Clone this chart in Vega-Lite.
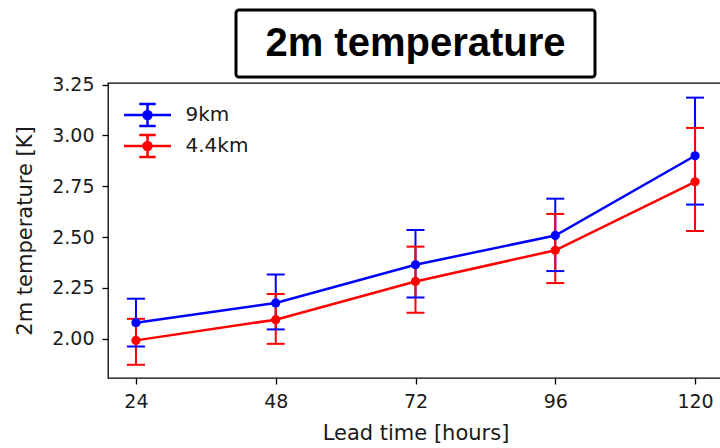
{
  "$schema": "https://vega.github.io/schema/vega-lite/v6.json",
  "padding": {"left": 14, "top": 8, "right": 0, "bottom": 0},
  "background": "white",
  "config": {
    "font": "DejaVu Sans",
    "view": {"stroke": "black", "strokeWidth": 1.3},
    "axis": {
      "labelFont": "DejaVu Sans",
      "titleFont": "DejaVu Sans",
      "labelFontSize": 19,
      "titleFontSize": 21,
      "titleFontWeight": "normal",
      "labelColor": "#1a1a1a",
      "titleColor": "#1a1a1a",
      "tickColor": "black",
      "tickSize": 6,
      "tickWidth": 1.3,
      "domain": false,
      "grid": false
    }
  },
  "center": true,
  "bounds": "flush",
  "spacing": 6,
  "resolve": {"scale": {"color": "shared"}},
  "datasets": {
    "heading": [{"label": "2m temperature"}],
    "rmse": [
      {"lead": 24, "model": "9km", "value": 2.079, "lo": 1.962, "hi": 2.197},
      {"lead": 48, "model": "9km", "value": 2.176, "lo": 2.046, "hi": 2.316},
      {"lead": 72, "model": "9km", "value": 2.364, "lo": 2.203, "hi": 2.535},
      {"lead": 96, "model": "9km", "value": 2.508, "lo": 2.333, "hi": 2.689},
      {"lead": 120, "model": "9km", "value": 2.9, "lo": 2.66, "hi": 3.186},
      {"lead": 24, "model": "4.4km", "value": 1.992, "lo": 1.872, "hi": 2.098},
      {"lead": 48, "model": "4.4km", "value": 2.094, "lo": 1.975, "hi": 2.22},
      {"lead": 72, "model": "4.4km", "value": 2.282, "lo": 2.128, "hi": 2.453},
      {"lead": 96, "model": "4.4km", "value": 2.435, "lo": 2.274, "hi": 2.614},
      {"lead": 120, "model": "4.4km", "value": 2.772, "lo": 2.53, "hi": 3.037}
    ]
  },
  "vconcat": [
    {
      "width": 359,
      "height": 67,
      "view": {"stroke": "black", "strokeWidth": 3, "cornerRadius": 3},
      "data": {"name": "heading"},
      "mark": {"type": "text", "font": "Liberation Sans", "fontWeight": "bold", "fontSize": 40, "color": "black", "baseline": "middle", "align": "center"},
      "encoding": {"text": {"field": "label", "type": "nominal"}}
    },
    {
      "width": 615,
      "height": 295,
      "data": {"name": "rmse"},
      "encoding": {
        "x": {
          "field": "lead",
          "type": "quantitative",
          "scale": {"domain": [19.2, 124.8], "nice": false, "zero": false},
          "axis": {"values": [24, 48, 72, 96, 120], "title": "Lead time [hours]", "labelPadding": 8, "titlePadding": 11}
        },
        "color": {
          "field": "model",
          "type": "nominal",
          "scale": {"domain": ["9km", "4.4km"], "range": ["#0000ff", "#ff0000"]},
          "legend": {
            "title": null,
            "orient": "none",
            "legendX": 26.5,
            "legendY": 92,
            "padding": 0,
            "symbolType": "M-2,0H2M0,-0.94V0.94M-0.7,-0.94H0.7M-0.7,0.94H0.7M0.34,0A0.34,0.34 0 1,1 -0.34,0A0.34,0.34 0 1,1 0.34,0Z",
            "symbolSize": 552,
            "symbolStrokeWidth": 2.5,
            "labelFont": "DejaVu Sans",
            "labelFontSize": 20,
            "labelColor": "#1a1a1a",
            "labelOffset": 25,
            "rowPadding": -3,
            "encode": {
              "symbols": {
                "update": {
                  "fill": {"scale": "color", "field": "value"},
                  "stroke": {"scale": "color", "field": "value"},
                  "opacity": {"value": 1}
                }
              }
            }
          }
        }
      },
      "layer": [
        {
          "mark": {"type": "rule", "strokeWidth": 2, "opacity": 1},
          "encoding": {
            "y": {
              "field": "lo",
              "type": "quantitative",
              "title": "2m temperature [K]",
              "scale": {"domain": [1.807, 3.258], "nice": false, "zero": false},
              "axis": {"values": [2, 2.25, 2.5, 2.75, 3, 3.25], "format": ".2f", "labelPadding": 8, "titlePadding": 16}
            },
            "y2": {"field": "hi"}
          }
        },
        {
          "mark": {"type": "tick", "orient": "horizontal", "size": 18, "thickness": 2, "opacity": 1},
          "encoding": {
            "y": {"field": "lo", "type": "quantitative", "title": "2m temperature [K]"}
          }
        },
        {
          "mark": {"type": "tick", "orient": "horizontal", "size": 18, "thickness": 2, "opacity": 1},
          "encoding": {
            "y": {"field": "hi", "type": "quantitative", "title": "2m temperature [K]"}
          }
        },
        {
          "mark": {"type": "line", "strokeWidth": 2.5},
          "encoding": {
            "y": {"field": "value", "type": "quantitative", "title": "2m temperature [K]"}
          }
        },
        {
          "mark": {"type": "point", "filled": true, "size": 85, "opacity": 1},
          "encoding": {
            "y": {"field": "value", "type": "quantitative", "title": "2m temperature [K]"}
          }
        }
      ]
    }
  ]
}
